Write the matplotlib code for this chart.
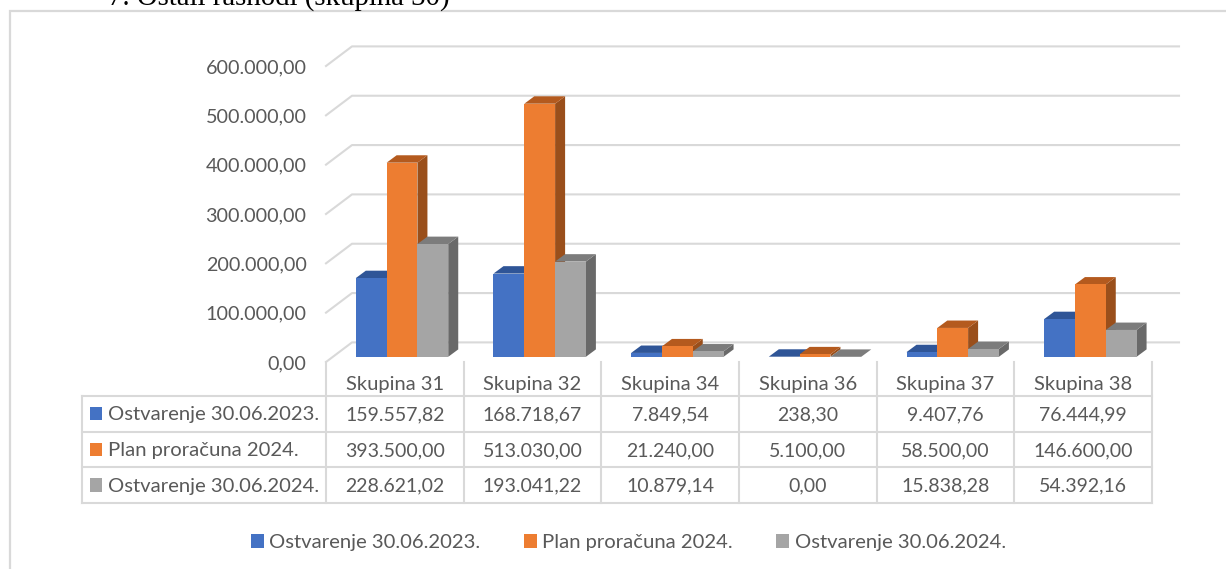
import matplotlib
matplotlib.use("Agg")
import matplotlib.pyplot as plt
from matplotlib.patches import Polygon, Rectangle

# ---- data ----
categories = ["Skupina 31", "Skupina 32", "Skupina 34", "Skupina 36", "Skupina 37", "Skupina 38"]
series_names = ["Ostvarenje 30.06.2023.", "Plan proračuna 2024.", "Ostvarenje 30.06.2024."]
ostvarenje_2023 = [159557.82, 168718.67, 7849.54, 238.30, 9407.76, 76444.99]
plan_2024 = [393500.00, 513030.00, 21240.00, 5100.00, 58500.00, 146600.00]
ostvarenje_2024 = [228621.02, 193041.22, 10879.14, 0.00, 15838.28, 54392.16]
y_ticks = [0, 100000, 200000, 300000, 400000, 500000, 600000]
heading = "7. Ostali rashodi (skupina 30)"

# ---- styles ----
W, H = 1226, 569
FRONT = ["#4472C4", "#ED7D31", "#A5A5A5"]
TOP = ["#2F5597", "#B45A1E", "#7C7C7C"]
SIDE = ["#29497F", "#9A4F1B", "#696969"]
GRID = "#D9D9D9"
TXT = "#595959"
FONT = "Lato"
FS = 14.0
FS_LABEL = 14.55


def fmt(v):
    return f"{v:,.2f}".replace(",", "#").replace(".", ",").replace("#", ".")


plt.rcParams["font.family"] = [FONT, "DejaVu Sans"]
fig = plt.figure(figsize=(W / 100, H / 100), dpi=100)

# overlay in pixel coordinates for the frame, heading and table rules
ov = fig.add_axes([0, 0, 1, 1], zorder=0)
ov.set_xlim(0, W)
ov.set_ylim(H, 0)
ov.axis("off")

# chart axes: front plane of the walls
L, R, T, B = 326, 1152, 66, 362
ax = fig.add_axes([L / W, 1 - B / H, (R - L) / W, (B - T) / H], zorder=1)
ax.patch.set_alpha(0)
ax.set_xlim(-0.5, 5.5)
ax.set_ylim(0, 600000)
for s in ax.spines.values():
    s.set_visible(False)

px_x = 6 / (R - L)          # data units per pixel
px_y = 600000 / (B - T)

# walls / gridlines
WALL_DX, WALL_DY = 26 * px_x, 19.6 * px_y
GRID_END = -0.5 + (1179 - L) * px_x
for t in y_ticks:
    ax.plot([-0.5, -0.5 + WALL_DX, GRID_END], [t, t + WALL_DY, t + WALL_DY],
            color=GRID, lw=1.5, clip_on=False, zorder=1, solid_joinstyle="round")

ax.set_yticks(y_ticks, [fmt(t) for t in y_ticks])
ax.set_xticks(range(6), categories)
ax.tick_params(axis="both", length=0, labelcolor=TXT)
ax.tick_params(axis="y", pad=14, labelsize=14.2)
ax.tick_params(axis="x", pad=10, labelsize=14.5)

# 3D-looking bars
series = [ostvarenje_2023, plan_2024, ostvarenje_2024]
BAR_W = 30.8 * px_x
BASE = 5.2 * px_y
SHIFT = 7.2 * px_x
DX, DY = 10 * px_x, 7.4 * px_y
handles = []
z = 2
for g in range(6):
    for k, vals in enumerate(series):
        x0 = g + SHIFT + (k - 1.5) * BAR_W
        x1 = x0 + BAR_W
        y0, y1 = BASE, BASE + vals[g]
        ax.add_patch(Polygon([(x1, y0), (x1 + DX, y0 + DY), (x1 + DX, y1 + DY), (x1, y1)],
                             closed=True, fc=SIDE[k], ec="none", clip_on=False, zorder=z))
        ax.add_patch(Polygon([(x0, y1), (x0 + DX, y1 + DY), (x1 + DX, y1 + DY), (x1, y1)],
                             closed=True, fc=TOP[k], ec="none", clip_on=False, zorder=z))
        z += 1
        bar = ax.bar(x0, vals[g], width=BAR_W, bottom=BASE, align="edge", color=FRONT[k],
                     clip_on=False, zorder=z, label=series_names[k] if g == 0 else None)
        if g == 0:
            handles.append(bar)
        z += 1

# frame and heading
ov.plot([10, 10, W], [H, 11, 11], color=GRID, lw=1.6, solid_joinstyle="miter")
ov.text(108, 4.5, heading, family="Liberation Serif", fontsize=20.8, color="black",
        ha="left", va="baseline", clip_on=True)

# data table
col_x = [L + (R - L) / 6 * i for i in range(7)]
row_y = [396, 431.7, 467.3, 503.3]
TBL_L = 82
for i, x in enumerate(col_x):
    ov.plot([x, x], [361.7, row_y[-1]], color=GRID, lw=1.5)
for y in row_y:
    ov.plot([TBL_L, R], [y, y], color=GRID, lw=1.5)
ov.plot([TBL_L, TBL_L], [row_y[0], row_y[-1]], color=GRID, lw=1.5)

for r, vals in enumerate(series):
    yc = (row_y[r] + row_y[r + 1]) / 2
    ov.add_patch(Rectangle((90, yc - 7), 12.4, 13.2, fc=FRONT[r], ec="none"))
    ov.text(108.5, yc + 1, series_names[r], fontsize=FS_LABEL, color=TXT, ha="left", va="center")
    for c, v in enumerate(vals):
        ov.text((col_x[c] + col_x[c + 1]) / 2, yc + 1, fmt(v), fontsize=FS, color=TXT,
                ha="center", va="center")

# legend
ax.legend(handles=handles, labels=series_names, loc="center", frameon=False, ncols=3,
          bbox_to_anchor=((628.5 - L) / (R - L), (B - 542.5) / (B - T)),
          bbox_transform=ax.transAxes, fontsize=FS_LABEL, labelcolor=TXT,
          handlelength=0.64, handleheight=0.64, handletextpad=0.27, columnspacing=2.15,
          borderpad=0, borderaxespad=0)

fig.savefig("out.png", dpi=100)
